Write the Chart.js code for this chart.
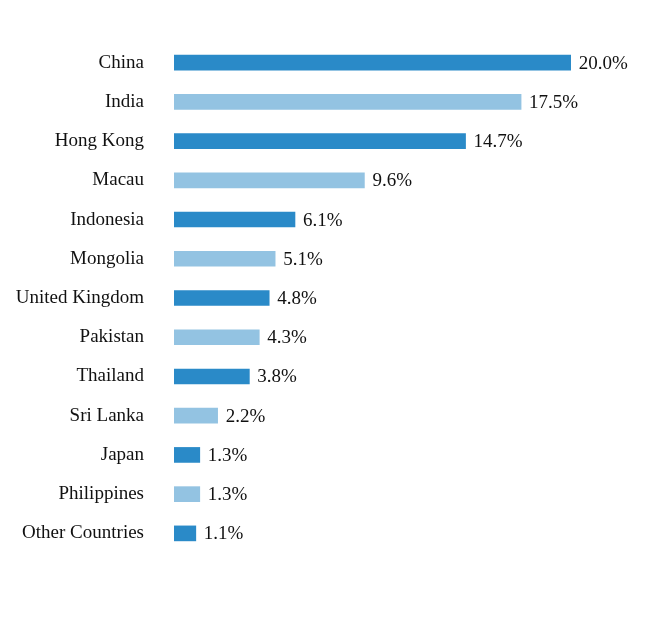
<!DOCTYPE html>
<html><head><meta charset="utf-8">
<script src="https://cdn.jsdelivr.net/npm/chart.js@4"></script>
<style>html,body{margin:0;padding:0;background:#fff}#w{width:668px;height:636px}</style>
</head><body><div id="w"><canvas id="c"></canvas></div>
<script>
const categories = ["China","India","Hong Kong","Macau","Indonesia","Mongolia","United Kingdom","Pakistan","Thailand","Sri Lanka","Japan","Philippines","Other Countries"];
const values = [20.0,17.5,14.7,9.6,6.1,5.1,4.8,4.3,3.8,2.2,1.3,1.3,1.1];
const dark = "#2a8ac8", light = "#93c3e2";
const colors = categories.map((_, i) => i % 2 === 0 ? dark : light);
const font = "'Liberation Serif', 'Times New Roman', serif";

const labelPlugin = {
  id: 'vals',
  afterDatasetsDraw(chart) {
    const ctx = chart.ctx;
    const meta = chart.getDatasetMeta(0);
    ctx.save();
    ctx.font = "19px " + font;
    ctx.fillStyle = "#111";
    ctx.textBaseline = "middle";
    meta.data.forEach((bar, i) => {
      ctx.fillText(values[i].toFixed(1) + "%", bar.x + 8, bar.y + 1);
    });
    ctx.restore();
  }
};

new Chart(document.getElementById('c'), {
  type: 'bar',
  data: { labels: categories, datasets: [{ data: values, backgroundColor: colors, barThickness: 15 }] },
  options: {
    indexAxis: 'y', responsive: true, maintainAspectRatio: false, animation: false,
    layout: { padding: { top: 43, bottom: 83, left: 0, right: 18 } },
    plugins: { legend: { display: false }, tooltip: { enabled: false } },
    scales: {
      x: { min: 0, max: 24, display: false },
      y: {
        grid: { display: false }, border: { display: false },
        ticks: { color: "#111", font: { family: font, size: 19 }, padding: 22 },
        afterFit(s) { s.width = 174; }
      }
    }
  },
  plugins: [labelPlugin]
});
</script></body></html>
